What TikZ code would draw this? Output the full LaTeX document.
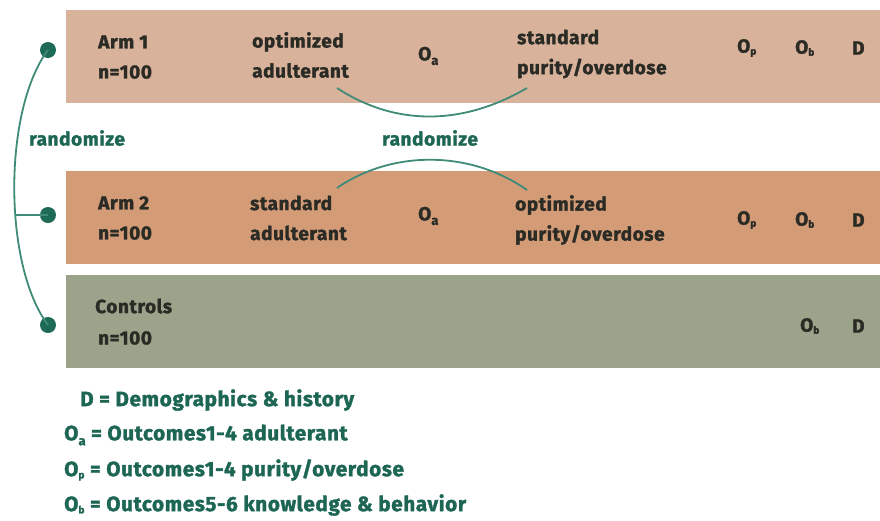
\documentclass[tikz,border=0pt]{standalone}
\usepackage{fontspec}
\setmainfont{Fira Sans}[BoldFeatures={FakeBold=1.6}, LetterSpace=3]
\definecolor{boxA}{HTML}{D8B29B}
\definecolor{boxB}{HTML}{D49B77}
\definecolor{boxC}{HTML}{9BA38A}
\definecolor{dotg}{HTML}{1D6B57}
\definecolor{lineg}{HTML}{3F8B78}
\definecolor{legg}{HTML}{1E6654}
\definecolor{txt}{HTML}{2B2B25}
\newcommand{\Osub}[1]{O\raisebox{-0.45ex}{\fontsize{13}{13}\selectfont #1}}
\newcommand{\Osm}[1]{O\raisebox{-0.2ex}{\fontsize{10}{10}\selectfont #1}}
\begin{document}
\begin{tikzpicture}[x=1pt,y=-1pt,
  band/.style={draw=none,minimum width=814pt,minimum height=93pt,anchor=north west,inner sep=0pt},
  lbl/.style={font=\bfseries\fontsize{19}{30}\selectfont,text=txt,align=left,anchor=west,inner sep=0pt},
  rnd/.style={font=\bfseries\fontsize{19}{20}\selectfont,text=legg,inner sep=0pt},
  leg/.style={font=\bfseries\fontsize{20.7}{22}\selectfont,text=legg,anchor=west,inner sep=0pt},
  gdot/.style={circle,fill=dotg,minimum size=16pt,inner sep=0pt},
  conn/.style={draw=lineg,line width=1.8pt}]
\useasboundingbox (0,0) rectangle (880,520);
% bands
\node[band,fill=boxA] (b1) at (66,10) {};
\node[band,fill=boxB] (b2) at (66,171) {};
\node[band,fill=boxC] (b3) at (66,275) {};
% arm 1
\node[lbl] (arm1) at (98,57) {Arm 1\\n=100};
\node[lbl] (opt1) at (252,55) {optimized\\adulterant};
\node[lbl] (oa1) at (418,56) {\Osub{a}};
\node[lbl] (std1) at (517,54) {standard\\purity/overdose};
\node[lbl] (op1) at (737,48) {\Osm{p}};
\node[lbl] (ob1) at (795,48) {\Osm{b}};
\node[lbl] (d1) at (852,48) {D};
% arm 2
\node[lbl] (arm2) at (98,218) {Arm 2\\n=100};
\node[lbl] (std2) at (250,218) {standard\\adulterant};
\node[lbl] (oa2) at (418,216) {\Osub{a}};
\node[lbl] (opt2) at (515,220) {optimized\\purity/overdose};
\node[lbl] (op2) at (737,220) {\Osm{p}};
\node[lbl] (ob2) at (795,220) {\Osm{b}};
\node[lbl] (d2) at (852,220) {D};
% controls
\node[lbl] (ctl) at (95,306) {Controls};
\node[lbl] (n3) at (98,338) {n=100};
\node[lbl] (ob3) at (800,326) {\Osm{b}};
\node[lbl] (d3) at (852,326) {D};
% dots and bracket
\node[gdot] (g1) at (48,50) {};
\node[gdot] (g2) at (48,215) {};
\node[gdot] (g3) at (48,325) {};
\coordinate (jn) at (15,215);
\draw[conn] (g1.center) .. controls (3,110) and (3,265) .. (g3.center);
\draw[conn] (jn) -- (g2.center);
\node[rnd] (r1) at (77,138) {randomize};
% crossover arcs
\coordinate (u1) at (337,88);
\coordinate (u2) at (527,88);
\coordinate (l1) at (337,188);
\coordinate (l2) at (527,190);
\draw[conn] (u1) .. controls (395,126) and (462,126) .. (u2);
\draw[conn] (l1) .. controls (392,150) and (470,150) .. (l2);
\node[rnd] (r2) at (430,138) {randomize};
% legend
\node[leg] (k1) at (80,400) {D = Demographics \& history};
\node[leg] (k2) at (64,435) {\Osub{a} = Outcomes1-4 adulterant};
\node[leg] (k3) at (64,470) {\Osm{p} = Outcomes1-4 purity/overdose};
\node[leg] (k4) at (64,505) {\Osm{b} = Outcomes5-6 knowledge \& behavior};
\end{tikzpicture}
\end{document}
